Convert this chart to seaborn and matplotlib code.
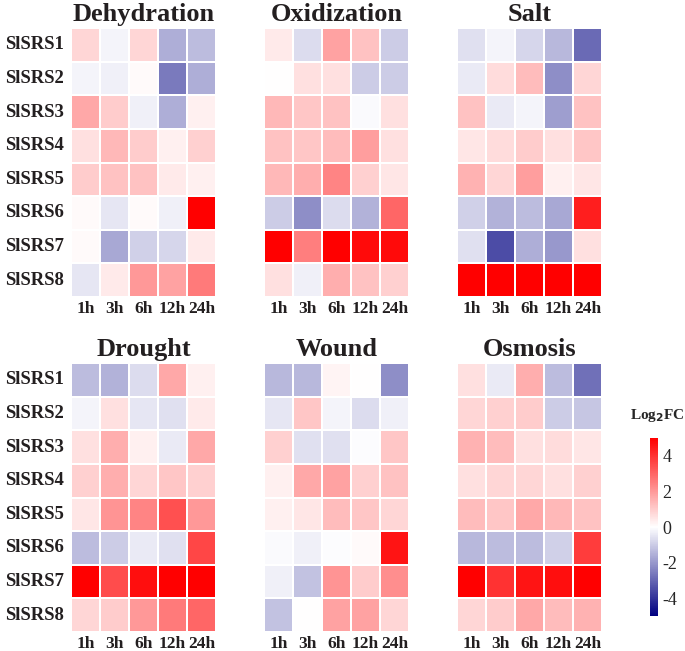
import numpy as np
import pandas as pd
import matplotlib
matplotlib.use("Agg")
import matplotlib.pyplot as plt
import seaborn as sns
from matplotlib.colors import LinearSegmentedColormap

genes = ["SlSRS1", "SlSRS2", "SlSRS3", "SlSRS4", "SlSRS5", "SlSRS6", "SlSRS7", "SlSRS8"]
times = ["1h", "3h", "6h", "12h", "24h"]

dehydration = [
    [0.8, -0.2, 0.8, -1.6, -1.3],
    [-0.2, -0.3, 0.1, -2.6, -1.6],
    [1.7, 1.0, -0.3, -1.6, 0.3],
    [0.6, 1.4, 1.0, 0.3, 0.9],
    [1.0, 1.2, 1.2, 0.4, 0.3],
    [0.1, -0.5, 0.1, -0.3, 5.0],
    [0.1, -1.7, -0.9, -0.8, 0.4],
    [-0.5, 0.4, 2.0, 1.8, 2.6],
]
oxidization = [
    [0.4, -0.7, 1.8, 1.2, -1.0],
    [0.0, 0.6, 0.6, -1.0, -1.0],
    [1.4, 1.1, 1.2, -0.1, 0.6],
    [1.2, 1.1, 1.3, 1.9, 0.6],
    [1.4, 1.6, 2.4, 0.9, 0.5],
    [-1.0, -2.2, -0.7, -1.5, 3.0],
    [5.0, 2.5, 5.0, 4.8, 4.8],
    [0.6, -0.3, 1.6, 1.2, 0.9],
]
salt = [
    [-0.6, -0.2, -0.8, -1.4, -2.9],
    [-0.4, 0.7, 1.3, -2.2, 0.8],
    [1.2, -0.4, -0.2, -1.9, 1.2],
    [0.5, 0.7, 1.0, 0.6, 1.1],
    [1.5, 0.8, 1.9, 0.3, 0.5],
    [-0.9, -1.5, -1.3, -1.7, 4.4],
    [-0.6, -3.5, -1.6, -2.0, 0.6],
    [5.0, 5.0, 5.0, 5.0, 5.0],
]
drought = [
    [-1.3, -1.5, -0.7, 1.7, 0.3],
    [-0.2, 0.6, -0.5, -0.6, 0.4],
    [0.6, 1.6, 0.3, -0.4, 1.7],
    [0.9, 1.6, 0.8, 1.1, 0.9],
    [0.5, 2.1, 2.4, 3.4, 2.0],
    [-1.3, -1.0, -0.4, -0.6, 3.6],
    [5.0, 3.5, 4.7, 5.0, 5.0],
    [0.8, 1.0, 2.0, 2.6, 3.0],
]
wound = [
    [-1.4, -1.4, 0.2, 0.0, -2.2],
    [-0.5, 1.1, -0.2, -0.7, -0.3],
    [0.9, -0.6, -0.6, -0.05, 1.1],
    [0.3, 1.7, 1.8, 0.9, 1.2],
    [0.3, 0.5, 1.3, 1.1, 0.8],
    [-0.1, -0.3, -0.05, 0.1, 4.6],
    [-0.3, -1.2, 2.1, 1.0, 2.2],
    [-1.2, 0.0, 1.8, 1.8, 0.8],
]
osmosis = [
    [0.6, -0.4, 1.6, -1.3, -2.8],
    [0.8, 0.9, 1.0, -1.0, -1.1],
    [1.5, 1.3, 0.6, 0.7, 0.5],
    [0.6, 0.8, 0.8, 0.6, 0.9],
    [1.3, 1.1, 1.7, 1.4, 1.2],
    [-1.4, -1.3, -1.3, -0.9, 3.8],
    [5.0, 4.0, 4.6, 4.7, 5.0],
    [0.8, 1.0, 1.7, 1.3, 1.5],
]

panels = [
    ("Dehydration", dehydration),
    ("Oxidization", oxidization),
    ("Salt", salt),
    ("Drought", drought),
    ("Wound", wound),
    ("Osmosis", osmosis),
]

sns.set_style("white")
plt.rcParams["font.family"] = ["Liberation Serif", "DejaVu Serif"]

cmap = LinearSegmentedColormap.from_list("bwr2", ["#000080", "#ffffff", "#ff0000"])

fig = plt.figure(figsize=(6.85, 6.51), dpi=100)

W, H = 685.0, 651.0
lefts = [71, 264, 457]
tops = [28, 363]
pw, ph = 145, 269

cax = fig.add_axes([650 / W, 1 - 616 / H, 8 / W, 178 / H])

for i, (name, vals) in enumerate(panels):
    r, c = divmod(i, 3)
    ax = fig.add_axes([lefts[c] / W, 1 - (tops[r] + ph) / H, pw / W, ph / H])
    df = pd.DataFrame(vals, index=genes, columns=times)
    sns.heatmap(df, ax=ax, cmap=cmap, vmin=-5, vmax=5, linewidths=1.2,
                linecolor="white", cbar=(i == 0), cbar_ax=cax if i == 0 else None)
    ax.set_title(name, fontsize=19, fontweight="bold", pad=5, color="#231f20")
    ax.tick_params(axis="x", length=0, pad=3)
    ax.tick_params(axis="y", length=0, pad=5)
    ax.set_xticklabels(times, rotation=0, fontsize=12.5, fontweight="bold", color="#231f20")
    if c == 0:
        ax.set_yticklabels(genes, rotation=0, fontsize=13.5, fontweight="bold", color="#231f20")
    else:
        ax.set_yticks([])
    ax.set_xlabel("")
    ax.set_ylabel("")

cax.set_yticks([-4, -2, 0, 2, 4])
cax.set_yticklabels(["-4", "-2", "0", "2", "4"], fontsize=13)
cax.tick_params(length=2, width=0.6, color="white", direction="in", pad=3)
for s in cax.spines.values():
    s.set_visible(False)
fig.text(657 / W, 1 - 415 / H, "Log$_\\mathbf{2}$FC", ha="center", va="center",
         fontsize=11, fontweight="bold")

fig.savefig("out.png", dpi=100)
